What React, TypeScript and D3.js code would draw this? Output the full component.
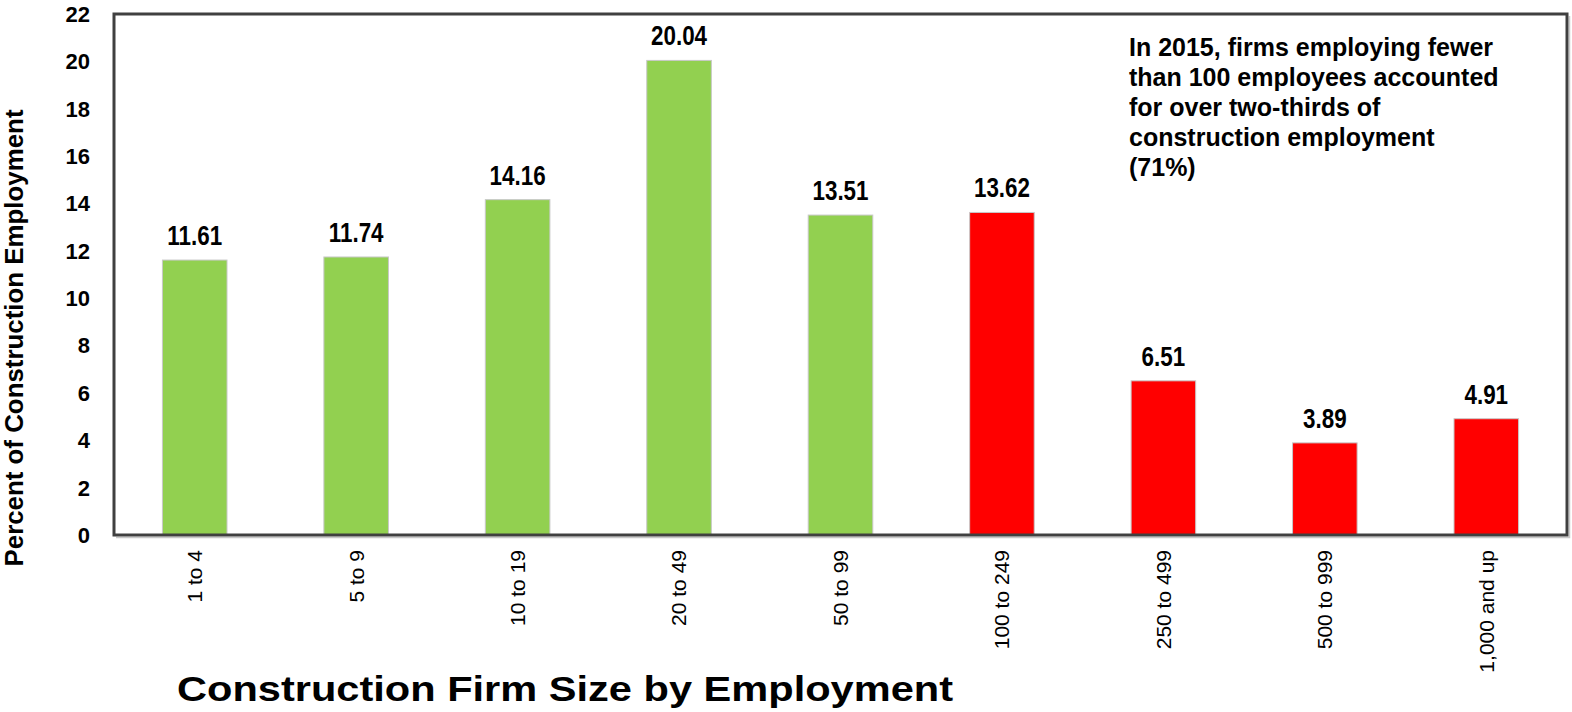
import React from "react";
import * as d3 from "d3";

const categories = ["1 to 4", "5 to 9", "10 to 19", "20 to 49", "50 to 99", "100 to 249", "250 to 499", "500 to 999", "1,000 and up"];
const values = [11.61, 11.74, 14.16, 20.04, 13.51, 13.62, 6.51, 3.89, 4.91];
const groups = ["small", "small", "small", "small", "small", "large", "large", "large", "large"];
const yTicks = [0, 2, 4, 6, 8, 10, 12, 14, 16, 18, 20, 22];
const noteLines = [
  "In 2015, firms employing fewer",
  "than 100 employees accounted",
  "for over two-thirds of",
  "construction employment",
  "(71%)",
];
const yTitle = "Percent of Construction Employment";
const xTitle = "Construction Firm Size by Employment";

const W = 1572;
const H = 712;
const FONT = "'Liberation Sans', Arial, Helvetica, sans-serif";
const colors: Record<string, string> = { small: "#92D050", large: "#FF0000" };

export default function App() {
  const left = 114;
  const right = 1567;
  const top = 14;
  const bottom = 535;

  const x = d3.scaleBand<string>().domain(categories).range([left, right]).paddingInner(0.6).paddingOuter(0.3);
  const y = d3.scaleLinear().domain([0, 22]).range([bottom, top]);

  return (
    <svg width={W} height={H} style={{ position: "absolute", left: 0, top: 0, background: "#fff" }} fontFamily={FONT}>
      <rect x={0} y={0} width={W} height={H} fill="#fff" />
      {categories.map((c, i) => (
        <rect
          key={c}
          x={x(c)!}
          y={y(values[i])}
          width={x.bandwidth()}
          height={y(0) - y(values[i])}
          fill={colors[groups[i]]}
          stroke="#C8C8C8"
          strokeWidth={1}
        />
      ))}
      <path d={`M${left + 2},${bottom + 2.5}H${right + 2.5}V${top + 2}`} fill="none" stroke="#C8C8C8" strokeWidth={1.5} />
      <rect x={left} y={top} width={right - left} height={bottom - top} fill="none" stroke="#404040" strokeWidth={3} />
      {categories.map((c, i) => (
        <g key={c} transform={`translate(${x(c)! + x.bandwidth() / 2},${y(values[i]) - 15}) scale(0.8,1)`}>
          <text textAnchor="middle" fontSize={28} fontWeight="bold" fill="#000">
            {values[i].toFixed(2)}
          </text>
        </g>
      ))}
      {yTicks.map((t) => (
        <text key={t} x={90} y={y(t)} dy="0.36em" textAnchor="end" fontSize={22} fontWeight="bold" fill="#000">
          {t}
        </text>
      ))}
      {categories.map((c) => (
        <text
          key={c}
          transform={`translate(${x(c)! + x.bandwidth() / 2},550) rotate(-90)`}
          dy="0.35em"
          textAnchor="end"
          fontSize={21}
          fill="#000"
        >
          {c}
        </text>
      ))}
      <text
        transform={`translate(23,338) rotate(-90)`}
        textAnchor="middle"
        fontSize={25}
        fontWeight="bold"
        fill="#000"
        textLength={457}
        lengthAdjust="spacingAndGlyphs"
      >
        {yTitle}
      </text>
      <text x={177} y={701} fontSize={35} fontWeight="bold" fill="#000" textLength={776} lengthAdjust="spacingAndGlyphs">
        {xTitle}
      </text>
      {noteLines.map((l, i) => (
        <text key={i} x={1129} y={56 + i * 30} fontSize={25} fontWeight="bold" fill="#000">
          {l}
        </text>
      ))}
    </svg>
  );
}
